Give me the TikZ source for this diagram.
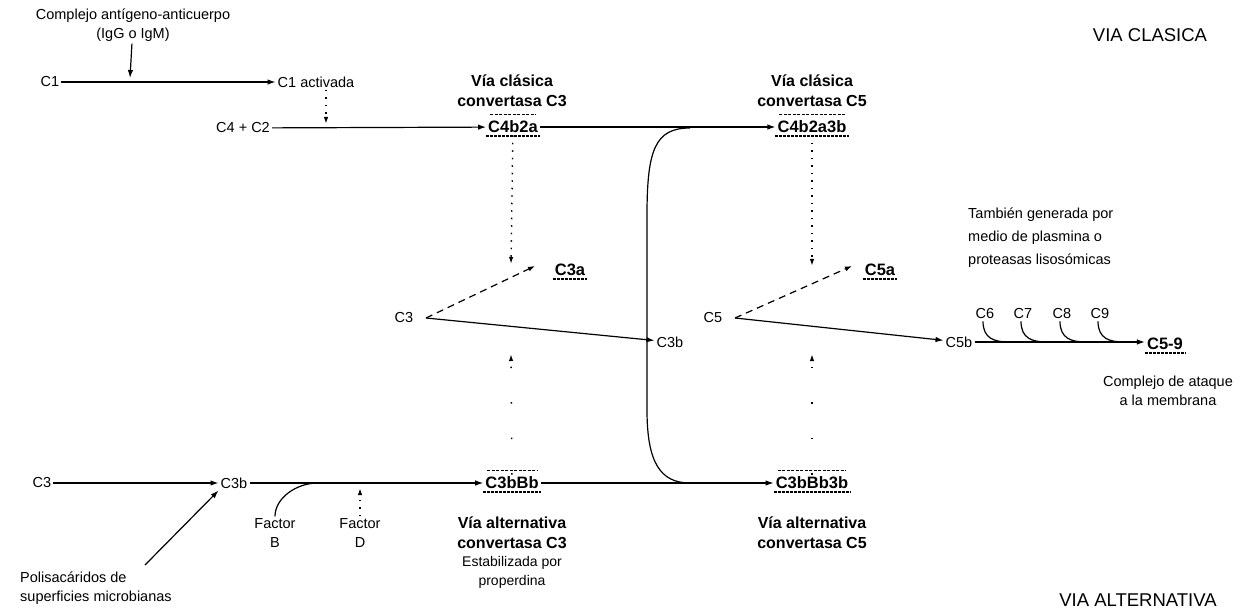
\documentclass[tikz,border=0pt]{standalone}
\usepackage{fontspec}
\setmainfont{Liberation Sans}
\usetikzlibrary{arrows.meta}
\begin{document}
\begin{tikzpicture}[x=1pt,y=-1pt,
  every node/.style={inner sep=2pt},
  lbl/.style={font=\fontsize{14.5}{19}\selectfont, align=center},
  note/.style={font=\fontsize{14.5}{23}\selectfont, align=left},
  small/.style={font=\fontsize{14}{19}\selectfont, align=center},
  bl/.style={font=\bfseries\fontsize{16.5}{18}\selectfont, align=center},
  bll/.style={font=\bfseries\fontsize{16}{20}\selectfont, align=center},
  hdr/.style={font=\fontsize{18.5}{21}\selectfont},
  arr/.style={-{Latex[length=8pt,width=5.5pt]}, line width=1.2pt},
  darr/.style={-{Latex[length=7pt,width=5pt]}, line width=1.2pt, dash pattern=on 7pt off 5pt},
  dotarr/.style={-{Latex[length=7pt,width=4.5pt]}, line width=1.4pt, dash pattern=on 1.5pt off 6pt},
  sparse/.style={-{Latex[length=7pt,width=4.5pt]}, line width=1.4pt, dash pattern=on 1.5pt off 34pt},
  link/.style={line width=1.2pt},
  topbar/.style={line width=0.8pt, dash pattern=on 3pt off 1.5pt},
  botbar/.style={line width=2.4pt, dash pattern=on 3pt off 1pt}
]
\useasboundingbox (0,0) rectangle (1244,609);

% ---------- classical pathway ----------
\node[lbl] (agab) at (133,25) {Complejo antígeno-anticuerpo\\(IgG o IgM)};
\node[lbl] (c1) at (50,82) {C1};
\node[lbl] (c1act) at (316,82) {C1 activada};
\coordinate (agtip) at (130,78);
\draw[arr] (c1) -- (c1act);
\draw[arr] (agab) -- (agtip);

\node[lbl] (c4c2) at (243,128) {C4 + C2};
\node[bll] (c3convlbl) at (512,91) {Vía clásica\\convertasa C3};
\node[bl] (c4b2a) at (513,127) {C4b2a};
\coordinate (c1tip) at (326,124);
\draw[arr] (c4c2) -- (c4b2a);
\draw[dotarr] (c1act.south -| c1tip) -- (c1tip);

\node[bll] (c5convlbl) at (812,91) {Vía clásica\\convertasa C5};
\node[bl] (c4b2a3b) at (812,127) {C4b2a3b};
\draw[arr] (c4b2a) -- (c4b2a3b);

% ---------- C3 and C5 cleavage ----------
\node[lbl] (c3) at (404,318) {C3};
\node[bl] (c3a) at (570,270) {C3a};
\coordinate (c3fork) at (426,318);
\coordinate (c3atip) at (535,266);
\draw[darr] (c3fork) -- (c3atip);

\node[lbl] (c5) at (713,318) {C5};
\node[bl] (c5a) at (880,270) {C5a};
\node[lbl] (c5b) at (959,342) {C5b};
\coordinate (c5fork) at (735,318);
\coordinate (c5atip) at (852,266);
\draw[darr] (c5fork) -- (c5atip);
\draw[arr] (c5fork) -- (c5b);

\coordinate (c3top) at (511,264);
\coordinate (c3bot) at (511,354);
\coordinate (c5top) at (812,266);
\coordinate (c5bot) at (812,354);
\draw[dotarr] (c4b2a) -- (c3top);
\draw[dotarr] (c4b2a3b) -- (c5top);

\node[note, anchor=west] (plasm) at (966,238) {También generada por\\medio de plasmina o\\proteasas lisosómicas};

% ---------- membrane attack complex ----------
\node[lbl] (c6) at (985,314) {C6};
\node[lbl] (c7) at (1023,314) {C7};
\node[lbl] (c8) at (1062,314) {C8};
\node[lbl] (c9) at (1100,314) {C9};
\node[bl] (c59) at (1165,344) {C5-9};
\node[lbl] (mac) at (1168,391) {Complejo de ataque\\a la membrana};
\draw[arr] (c5b) -- (c59.west |- c5b);
\foreach \c in {c6,c7,c8,c9}{
  \coordinate (\c j) at ([xshift=24pt]\c.south |- c5b);
  \draw[link] ([xshift=-2pt]\c.south) .. controls +(0,17) and +(-15,0) .. (\c j);
}

\node[hdr] (vc) at (1150,35) {VIA CLASICA};

% ---------- alternative pathway ----------
\node[lbl] (c3alt) at (42,483) {C3};
\node[lbl] (c3balt) at (234,483) {C3b};
\draw[arr] (c3alt) -- (c3balt);
\node[lbl, align=left, anchor=west] (polys) at (18,588) {Polisacáridos de\\superficies microbianas};
\coordinate (pstart) at (145,565);
\draw[arr] (pstart) -- (c3balt.south west);

\node[bl] (c3bbb) at (512,483) {C3bBb};
\node[lbl] (facB) at (275,533) {Factor\\B};
\node[lbl] (facD) at (360,533) {Factor\\D};
\draw[arr] (c3balt) -- (c3bbb);
\coordinate (jB) at (318,483);
\coordinate (jD) at (360,488);
\draw[link] (facB.north) .. controls +(0,-18) and +(-22,0) .. (jB);
\draw[dotarr] (facD) -- (jD);

\node[bll] (altc3) at (512,533) {Vía alternativa\\convertasa C3};
\node[small] (stab) at (512,572) {Estabilizada por\\properdina};

\node[bl] (c3bbb3b) at (812,483) {C3bBb3b};
\node[bll] (altc5) at (812,533) {Vía alternativa\\convertasa C5};
\draw[arr] (c3bbb) -- (c3bbb3b);

\draw[sparse] (c3bbb) -- (c3bot);
\draw[sparse] (c3bbb3b) -- (c5bot);

% C3b feeding both C5 convertases
\coordinate (jt) at (690,128);
\coordinate (jb) at (690,483);
\draw[link] (jt) .. controls (655,128) and (647,150) .. (647,215)
  -- (647,410) .. controls (647,462) and (660,483) .. (jb);

\node[lbl] (c3b) at (670,342) {C3b};
\draw[arr] (c3fork) -- (c3b);

\node[hdr] (va) at (1138,600) {VIA ALTERNATIVA};

% ---------- bars on the convertase complexes ----------
\foreach \n in {c4b2a,c4b2a3b,c3bbb,c3bbb3b,c3a,c5a,c59}{
  \draw[botbar] ([yshift=-1pt]\n.south west) -- ([yshift=-1pt]\n.south east);
}
\foreach \n in {c4b2a,c4b2a3b,c3bbb,c3bbb3b}{
  \draw[topbar] ([yshift=4pt,xshift=4pt]\n.north west) -- ([yshift=4pt,xshift=-4pt]\n.north east);
}
\end{tikzpicture}
\end{document}
